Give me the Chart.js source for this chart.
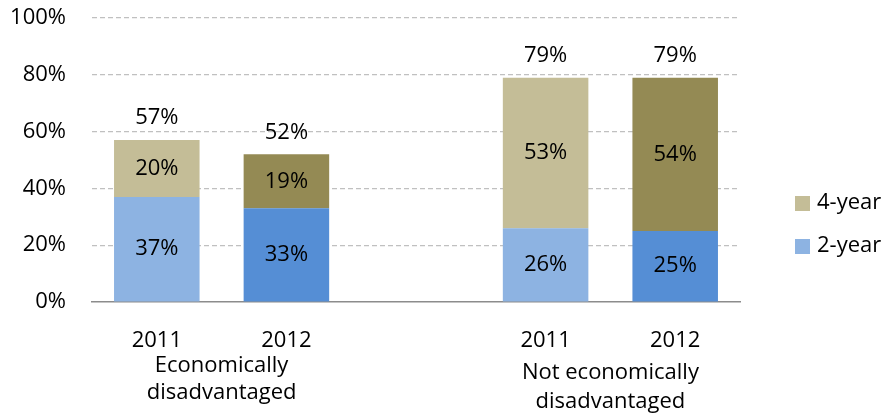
<!DOCTYPE html>
<html>
<head>
<meta charset="utf-8">
<script src="https://cdn.jsdelivr.net/npm/chart.js@4/dist/chart.umd.min.js"></script>
<style>
  html, body { margin: 0; padding: 0; background: #ffffff; }
  #wrap { width: 885px; height: 418px; position: relative; }
</style>
</head>
<body>
<div id="wrap"><canvas id="canvas"></canvas></div>
<script>
// data
var years = ["2011", "2012", "", "2011", "2012"];
var groups = [["Economically", "disadvantaged"], ["Not economically", "disadvantaged"]];
var twoYear = [37, 33, null, 26, 25];
var fourYear = [20, 19, null, 53, 54];
var totals = [57, 52, null, 79, 79];
var yTicks = [0, 20, 40, 60, 80, 100];

var lightBlue = "#8DB3E2", blue = "#558ED5";
var lightTan = "#C4BD97", olive = "#948A54";
var fontFam = "'Open Sans', 'Noto Sans', sans-serif";
var fontSize = 22;

// value labels, totals, group names and legend
var labelPlugin = {
    id: "labels",
    afterDatasetsDraw: function(chart) {
        var ctx = chart.ctx;
        ctx.save();
        ctx.font = fontSize + "px " + fontFam;
        ctx.fillStyle = "#000000";
        ctx.textAlign = "center";
        ctx.textBaseline = "middle";
        chart.data.datasets.forEach(function(ds, di) {
            var meta = chart.getDatasetMeta(di);
            meta.data.forEach(function(bar, i) {
                if (ds.data[i] == null) return;
                ctx.fillText(ds.data[i] + "%", bar.x, (bar.y + bar.base) / 2);
            });
        });
        // totals above each bar
        var topMeta = chart.getDatasetMeta(1);
        totals.forEach(function(t, i) {
            if (t == null) return;
            var bar = topMeta.data[i];
            ctx.fillText(t + "%", bar.x, bar.y - 22);
        });
        // group names under the years
        var xs = chart.scales.x;
        var groupY = [[366, 393], [373, 402]];
        groups.forEach(function(g, gi) {
            var a = xs.getPixelForValue(gi * 3);
            var b = xs.getPixelForValue(gi * 3 + 1);
            g.forEach(function(line, li) {
                ctx.fillText(line, (a + b) / 2, groupY[gi][li]);
            });
        });
        // legend
        var legendItems = [["4-year", lightTan, 203], ["2-year", lightBlue, 246]];
        ctx.textAlign = "left";
        legendItems.forEach(function(it) {
            ctx.fillStyle = it[1];
            ctx.fillRect(795, it[2] - 7, 15, 15);
            ctx.fillStyle = "#000000";
            ctx.fillText(it[0], 817, it[2]);
        });
        ctx.restore();
    }
};

var canvas = document.getElementById("canvas");
var ctx = canvas.getContext("2d");

new Chart(ctx, {
    type: "bar",
    data: {
        labels: years,
        datasets: [{
            label: "2-year",
            data: twoYear,
            backgroundColor: [lightBlue, blue, lightBlue, lightBlue, blue]
        }, {
            label: "4-year",
            data: fourYear,
            backgroundColor: [lightTan, olive, lightTan, lightTan, olive]
        }]
    },
    options: {
        responsive: true,
        maintainAspectRatio: false,
        animation: false,
        layout: {
            padding: { top: 18, right: 145, left: 0, bottom: 0 }
        },
        datasets: {
            bar: {
                categoryPercentage: 1,
                barPercentage: 0.66,
                borderWidth: 0
            }
        },
        plugins: {
            legend: { display: false },
            tooltip: { enabled: false }
        },
        scales: {
            x: {
                stacked: true,
                grid: { display: false },
                border: { display: true, color: "#8C8C8C", width: 1.5 },
                ticks: {
                    color: "#000000",
                    font: { family: fontFam, size: fontSize },
                    padding: 18,
                    maxRotation: 0,
                    autoSkip: false
                },
                afterFit: function(scale) {
                    scale.height = 116;
                    scale.paddingLeft = 0;
                    scale.paddingRight = 0;
                }
            },
            y: {
                stacked: true,
                min: 0,
                max: 100,
                afterBuildTicks: function(scale) {
                    scale.ticks = yTicks.map(function(v) { return { value: v }; });
                },
                grid: {
                    color: function(c) { return c.tick.value === 0 ? "rgba(0,0,0,0)" : "#C0C0C0"; },
                    lineWidth: 1.2,
                    drawTicks: false
                },
                border: { display: false, dash: [5, 3] },
                ticks: {
                    color: "#000000",
                    font: { family: fontFam, size: fontSize },
                    padding: 26,
                    callback: function(v) { return v + "%"; }
                },
                afterFit: function(scale) {
                    scale.width = 92;
                    scale.paddingTop = 0;
                    scale.paddingBottom = 0;
                }
            }
        }
    },
    plugins: [labelPlugin]
});
</script>
</body>
</html>
